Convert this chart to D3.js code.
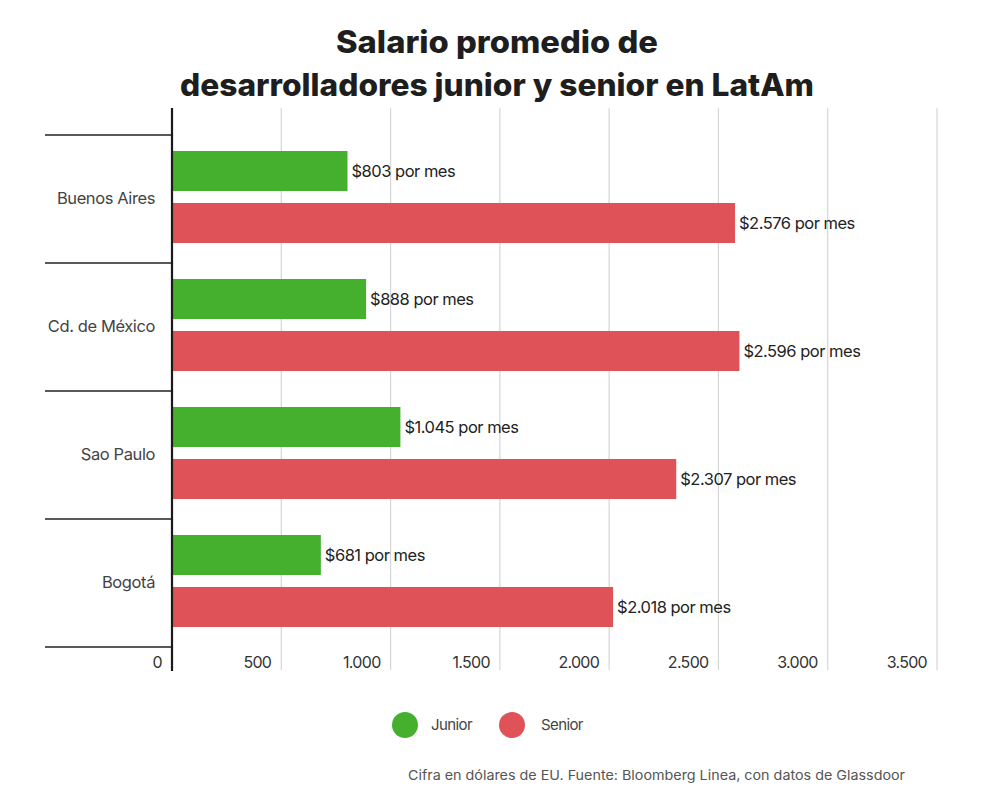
<!DOCTYPE html>
<html>
<head>
<meta charset="utf-8">
<script src="https://cdn.jsdelivr.net/npm/d3@7"></script>
<style>
  html, body { margin: 0; padding: 0; background: #fff; }
  svg { display: block; font-family: Inter, Roboto, "Noto Sans", sans-serif; }
</style>
</head>
<body>
<svg id="chart" width="1000" height="810"></svg>
<script>
const titleLines = ["Salario promedio de", "desarrolladores junior y senior en LatAm"];
const cities = ["Buenos Aires", "Cd. de México", "Sao Paulo", "Bogotá"];
const seriesNames = ["Junior", "Senior"];
const juniorValues = [803, 888, 1045, 681];
const seniorValues = [2576, 2596, 2307, 2018];
const xTicks = [0, 500, 1000, 1500, 2000, 2500, 3000, 3500];
const seriesColors = ["#44b02e", "#de5258"];
const footnote = "Cifra en dólares de EU. Fuente: Bloomberg Linea, con datos de Glassdoor";

const svg = d3.select("#chart");
const W = 1000, H = 810;
svg.append("rect").attr("width", W).attr("height", H).attr("fill", "#fff");

const fmt = d3.formatLocale({decimal: ",", thousands: ".", grouping: [3], currency: ["$", ""]});
const num = fmt.format(",d");

const x = d3.scaleLinear().domain([0, 3500]).range([172, 937]);
const y = d3.scaleBand().domain(cities).range([135, 647]).padding(0);
const ySub = d3.scaleBand().domain(seriesNames).range([16, 108]).paddingInner(0.23);
const color = d3.scaleOrdinal().domain(seriesNames).range(seriesColors);

// Title
const title = svg.append("g");
const titleWidths = [322, 634];
titleLines.forEach((t, i) => {
  title.append("text")
    .attr("x", 497).attr("y", 53 + i * 43)
    .attr("text-anchor", "middle")
    .attr("font-size", 31).attr("font-weight", 800)
    .attr("fill", "#1e1e1e")
    .attr("textLength", titleWidths[i])
    .attr("lengthAdjust", "spacingAndGlyphs")
    .text(t);
});

// Gridlines
svg.append("g").selectAll("line").data(xTicks.filter(d => d > 0)).join("line")
  .attr("x1", d => x(d)).attr("x2", d => x(d))
  .attr("y1", 108).attr("y2", 670)
  .attr("stroke", "#d6d6d6").attr("stroke-width", 1.2);

// Category separators
const seps = cities.map(c => y(c)).concat([y.range()[1]]);
svg.append("g").selectAll("line").data(seps).join("line")
  .attr("x1", 45).attr("x2", 172)
  .attr("y1", d => d).attr("y2", d => d)
  .attr("stroke", "#222").attr("stroke-width", 1.6);

// Bars
const rows = cities.map((c, i) => ({city: c, values: [
  {series: "Junior", value: juniorValues[i]},
  {series: "Senior", value: seniorValues[i]}
]}));

const groups = svg.append("g").selectAll("g").data(rows).join("g")
  .attr("transform", d => `translate(0,${y(d.city)})`);

groups.selectAll("rect").data(d => d.values).join("rect")
  .attr("x", x(0))
  .attr("y", d => ySub(d.series))
  .attr("width", d => x(d.value) - x(0))
  .attr("height", ySub.bandwidth())
  .attr("fill", d => color(d.series));

groups.selectAll("text.val").data(d => d.values).join("text")
  .attr("class", "val")
  .attr("x", d => x(d.value) + 4)
  .attr("y", d => ySub(d.series) + ySub.bandwidth() / 2)
  .attr("dy", "0.35em")
  .attr("font-size", 16.5)
  .attr("letter-spacing", -0.5)
  .attr("fill", "#222")
  .text(d => "$" + num(d.value) + " por mes");

// Category labels
svg.append("g").selectAll("text").data(cities).join("text")
  .attr("x", 155)
  .attr("y", d => y(d) + y.bandwidth() / 2 - 1)
  .attr("dy", "0.35em")
  .attr("text-anchor", "end")
  .attr("font-size", 16.5)
  .attr("letter-spacing", -0.4)
  .attr("fill", "#444")
  .text(d => d);

// Axis vertical line
svg.append("line")
  .attr("x1", x(0)).attr("x2", x(0))
  .attr("y1", 108).attr("y2", 671)
  .attr("stroke", "#1a1a1a").attr("stroke-width", 2.2);

// X tick labels
svg.append("g").selectAll("text").data(xTicks).join("text")
  .attr("x", d => x(d) - 10)
  .attr("y", 662)
  .attr("dy", "0.35em")
  .attr("text-anchor", "end")
  .attr("font-size", 16)
  .attr("letter-spacing", -0.7)
  .attr("fill", "#333")
  .text(d => num(d));

// Legend
const legendX = [405, 512];
const legend = svg.append("g").selectAll("g").data(seriesNames).join("g")
  .attr("transform", (d, i) => `translate(${legendX[i]},725)`);
legend.append("circle").attr("r", 13).attr("fill", d => color(d));
legend.append("text")
  .attr("x", (d, i) => i === 0 ? 26 : 29)
  .attr("dy", "0.35em")
  .attr("font-size", 15)
  .attr("letter-spacing", -0.6)
  .attr("fill", "#444")
  .text(d => d);

// Footnote
svg.append("text")
  .attr("x", 408).attr("y", 775)
  .attr("dy", "0.35em")
  .attr("font-size", 13.5)
  .attr("fill", "#555")
  .attr("textLength", 497)
  .attr("lengthAdjust", "spacingAndGlyphs")
  .text(footnote);
</script>
</body>
</html>
